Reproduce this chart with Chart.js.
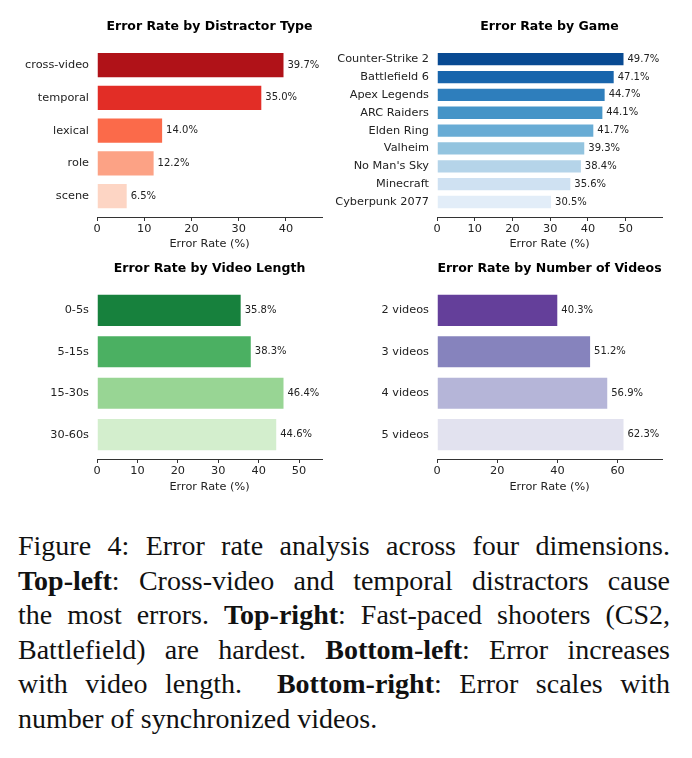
<!DOCTYPE html>
<html>
<head>
<meta charset="utf-8">
<script src="https://cdn.jsdelivr.net/npm/chart.js@4"></script>
<style>
  html, body { margin: 0; padding: 0; background: #fff; }
  #page { position: relative; width: 692px; height: 758px; overflow: hidden; }
  canvas { position: absolute; }
  #caption {
    position: absolute; left: 18px; top: 529px; width: 652px;
    font-family: "Liberation Serif", "Times New Roman", serif;
    font-size: 28px; line-height: 34.6px; color: #111;
  }
  #caption div { white-space: nowrap; text-align: justify; text-align-last: justify; }
  #caption div.last { text-align-last: left; }
</style>
</head>
<body>
<div id="page">
  <canvas id="distractor" width="346" height="252" style="left:0;top:0"></canvas>
  <canvas id="game" width="362" height="252" style="left:330px;top:0"></canvas>
  <canvas id="length" width="346" height="244" style="left:0;top:252px"></canvas>
  <canvas id="count" width="362" height="244" style="left:330px;top:252px"></canvas>
  <div id="caption">
    <div>Figure 4: Error rate analysis across four dimensions.</div>
    <div><b>Top-left</b>: Cross-video and temporal distractors cause</div>
    <div>the most errors. <b>Top-right</b>: Fast-paced shooters (CS2,</div>
    <div>Battlefield) are hardest. <b>Bottom-left</b>: Error increases</div>
    <div>with video length. &nbsp;<b>Bottom-right</b>: Error scales with</div>
    <div class="last">number of synchronized videos.</div>
  </div>
</div>
<script>
// datos de cada panel
const distractorLabels = ["cross-video", "temporal", "lexical", "role", "scene"];
const distractorRates = [39.7, 35.0, 14.0, 12.2, 6.5];
const distractorTicks = [0, 10, 20, 30, 40];

const gameLabels = ["Counter-Strike 2", "Battlefield 6", "Apex Legends", "ARC Raiders",
  "Elden Ring", "Valheim", "No Man's Sky", "Minecraft", "Cyberpunk 2077"];
const gameRates = [49.7, 47.1, 44.7, 44.1, 41.7, 39.3, 38.4, 35.6, 30.5];
const gameTicks = [0, 10, 20, 30, 40, 50];

const lengthLabels = ["0-5s", "5-15s", "15-30s", "30-60s"];
const lengthRates = [35.8, 38.3, 46.4, 44.6];
const lengthTicks = [0, 10, 20, 30, 40, 50];

const countLabels = ["2 videos", "3 videos", "4 videos", "5 videos"];
const countRates = [40.3, 51.2, 56.9, 62.3];
const countTicks = [0, 20, 40, 60];

// colores (Reds, Blues, Greens, Purples)
const reds = ["#b01218", "#e22d26", "#fb6a4a", "#fca285", "#fdd5c4"];
const blues = ["#084a92", "#1865ac", "#2e7ebc", "#4594c7", "#68acd5", "#93c4df", "#b5d4e9", "#cfe1f2", "#e2edf8"];
const greens = ["#17813d", "#4bb062", "#98d594", "#d3eecd"];
const purples = ["#643f9a", "#8683bd", "#b5b5d8", "#e2e2ef"];

Chart.defaults.font.family = "'DejaVu Sans', sans-serif";
Chart.defaults.color = "#222";

const valueLabels = {
  id: "valueLabels",
  afterDatasetsDraw(chart) {
    const ctx = chart.ctx;
    const meta = chart.getDatasetMeta(0);
    const values = chart.data.datasets[0].data;
    ctx.save();
    ctx.font = "10px 'DejaVu Sans'";
    ctx.fillStyle = "#222";
    ctx.textAlign = "left";
    ctx.textBaseline = "middle";
    meta.data.forEach((bar, i) => {
      ctx.fillText(values[i].x.toFixed(1) + "%", bar.x + 3, bar.y);
    });
    ctx.restore();
  },
};

function makeChart(id, title, labels, rates, ticks, colors, opts) {
  const n = labels.length;
  const margin = 0.05 * (n - 0.2);
  const ctx = document.getElementById(id).getContext("2d");
  return new Chart(ctx, {
    type: "bar",
    data: {
      datasets: [
        {
          data: rates.map((v, i) => ({ x: v, y: i })),
          backgroundColor: colors,
          borderColor: "#fff",
          borderWidth: 1,
          barPercentage: 0.8,
          categoryPercentage: 1,
        },
      ],
    },
    options: {
      indexAxis: "y",
      responsive: false,
      animation: false,
      devicePixelRatio: 1,
      layout: { padding: { left: 0, right: opts.padRight, top: 0, bottom: 0 } },
      plugins: {
        legend: { display: false },
        tooltip: { enabled: false },
        title: {
          display: true,
          text: title,
          color: "#000",
          fullSize: false,
          font: { size: 12.5, weight: "bold" },
          padding: { top: opts.titleTop, bottom: opts.titleBottom },
        },
      },
      scales: {
        x: {
          type: "linear",
          min: 0,
          max: Math.max(...rates) * 1.2,
          afterBuildTicks: (s) => {
            s.ticks = ticks.map((v) => ({ value: v }));
          },
          afterFit: (s) => {
            s.height = opts.xHeight;
          },
          grid: { display: true, drawOnChartArea: false, drawTicks: true, tickLength: 4, color: "#333" },
          border: { display: true, color: "#333", width: 1 },
          ticks: { font: { size: 11.3 }, color: "#222", padding: 1.5 },
          title: {
            display: true,
            text: "Error Rate (%)",
            font: { size: 11.3 },
            color: "#222",
            padding: { top: 0, bottom: opts.xTitleBottom },
          },
        },
        y: {
          type: "linear",
          offset: false,
          reverse: true,
          min: -0.4 - margin,
          max: n - 0.6 + margin,
          afterBuildTicks: (s) => {
            s.ticks = labels.map((_, i) => ({ value: i }));
          },
          afterFit: (s) => {
            s.width = opts.yWidth;
          },
          grid: { display: false, drawTicks: false, offset: false },
          border: { display: false },
          ticks: {
            autoSkip: false,
            font: { size: 11.3 },
            color: "#222",
            padding: 8,
            callback: (v) => labels[v],
          },
        },
      },
    },
    plugins: [valueLabels],
  });
}

const topOpts = { padRight: 24, titleTop: 19.5, titleBottom: 9.7, xHeight: 35, xTitleBottom: 0.7, yWidth: 97 };
const bottomOpts = { padRight: 24, titleTop: 9.5, titleBottom: 9.5, xHeight: 37, xTitleBottom: 2.2, yWidth: 97 };

makeChart("distractor", "Error Rate by Distractor Type", distractorLabels, distractorRates, distractorTicks, reds, topOpts);
makeChart("game", "Error Rate by Game", gameLabels, gameRates, gameTicks, blues, { ...topOpts, padRight: 30, yWidth: 107 });
makeChart("length", "Error Rate by Video Length", lengthLabels, lengthRates, lengthTicks, greens, bottomOpts);
makeChart("count", "Error Rate by Number of Videos", countLabels, countRates, countTicks, purples, { ...bottomOpts, padRight: 30, yWidth: 107 });
</script>
</body>
</html>
